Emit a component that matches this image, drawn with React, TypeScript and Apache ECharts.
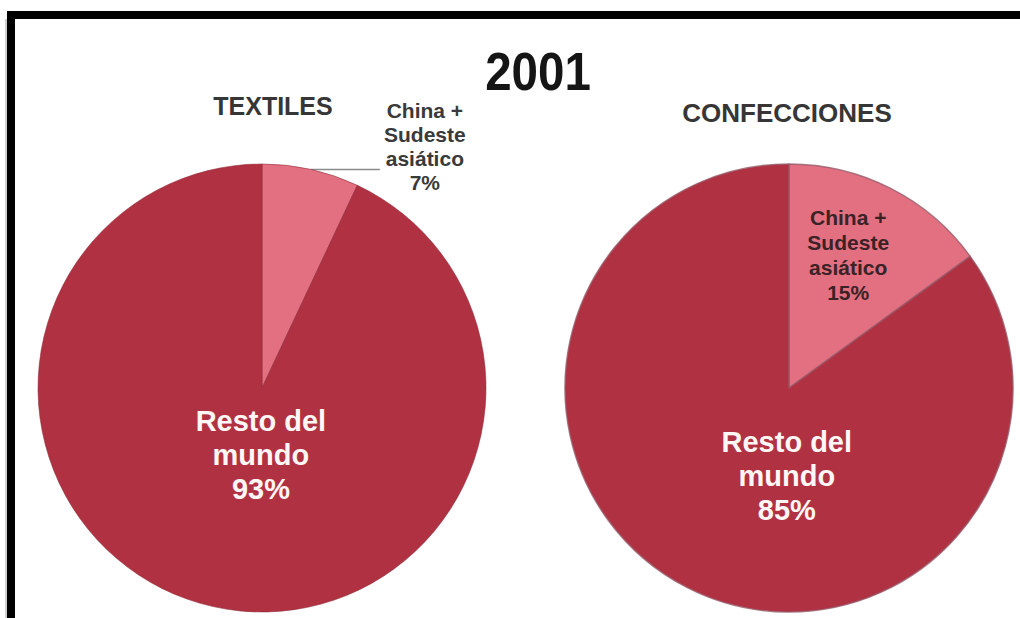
import React, { useEffect, useRef } from "react";
import * as echarts from "echarts";

// Share of world exports, 2001 (%)
const categories = ["China +\nSudeste\nasiático", "Resto del\nmundo"];
const textilesValues = [7, 93];
const confeccionesValues = [15, 85];
const panelTitles = ["TEXTILES", "CONFECCIONES"];
const yearTitle = "2001";

const DARK_RED = "#B03242";
const LIGHT_RED = "#E27080";
const FONT = "'Liberation Sans', Arial, sans-serif";

const makeData = (values: number[]) =>
  values.map((v, i) => ({ name: categories[i], value: v }));

const bigLabel = {
  show: true,
  position: "inside",
  formatter: (p: any) => `${p.name}\n${p.value}%`,
  color: "#fff6f6",
  fontFamily: FONT,
  fontWeight: "bold",
  fontSize: 29,
  lineHeight: 34,
  align: "center",
};

export default function App() {
  const ref = useRef<HTMLDivElement>(null);

  useEffect(() => {
    if (!ref.current) return;
    const chart = echarts.init(ref.current, undefined, { renderer: "svg" });

    const textilesData = makeData(textilesValues);
    const confeccionesData = makeData(confeccionesValues);

    chart.setOption({
      animation: false,
      backgroundColor: "#ffffff",
      graphic: [
        // frame
        { type: "rect", shape: { x: 7, y: 11, width: 1013, height: 8 }, style: { fill: "#000" } },
        { type: "rect", shape: { x: 7, y: 11, width: 8, height: 607 }, style: { fill: "#000" } },
        { type: "rect", shape: { x: 5, y: 19, width: 2, height: 599 }, style: { fill: "#cfcfcf" } },
        {
          type: "text",
          x: 538,
          y: 71,
          scaleX: 0.88,
          style: {
            text: yearTitle,
            fill: "#151515",
            font: `bold 54px ${FONT}`,
            textAlign: "center",
            textVerticalAlign: "middle",
          },
        },
        {
          type: "text",
          x: 273,
          y: 106,
          style: {
            text: panelTitles[0],
            fill: "#363636",
            font: `bold 25px ${FONT}`,
            textAlign: "center",
            textVerticalAlign: "middle",
          },
        },
        {
          type: "text",
          x: 787,
          y: 113,
          style: {
            text: panelTitles[1],
            fill: "#363636",
            font: `bold 26px ${FONT}`,
            textAlign: "center",
            textVerticalAlign: "middle",
          },
        },
      ],
      series: [
        {
          type: "pie",
          center: [262, 388],
          radius: 224,
          startAngle: 90,
          clockwise: true,
          avoidLabelOverlap: false,
          silent: true,
          itemStyle: { borderColor: "rgba(140,40,55,0.55)", borderWidth: 1 },
          labelLayout: (p: any) =>
            p.dataIndex === 1 ? { dx: 24, dy: -22 } : {},
          label: {
            show: true,
            position: "outside",
            distanceToLabelLine: 5,
            padding: [0, 0, 46, 0],
            formatter: (p: any) =>
              p.name
                .split("\n")
                .concat(`${p.value}%`)
                .map((s: string) => `{c|${s}}`)
                .join("\n"),
            rich: {
              c: {
                width: 80,
                align: "center",
                fontFamily: FONT,
                fontWeight: "bold",
                fontSize: 21,
                lineHeight: 24,
                color: "#3a3a3a",
              },
            },
          },
          labelLine: {
            show: true,
            length: 0,
            length2: 69,
            smooth: false,
            lineStyle: { color: "#8a8a8a", width: 1.5 },
          },
          data: [
            { ...textilesData[0], itemStyle: { color: LIGHT_RED } },
            {
              ...textilesData[1],
              itemStyle: { color: DARK_RED },
              label: bigLabel,
              labelLine: { show: false },
            },
          ],
        },
        {
          type: "pie",
          center: [789, 388],
          radius: 224,
          startAngle: 90,
          clockwise: true,
          avoidLabelOverlap: false,
          silent: true,
          itemStyle: { borderColor: "rgba(150,90,105,0.8)", borderWidth: 1.5 },
          labelLayout: (p: any) =>
            p.dataIndex === 1 ? { dx: 50, dy: -14 } : { dx: 7, dy: -31 },
          label: {
            show: true,
            position: "inside",
            formatter: (p: any) => `${p.name}\n${p.value}%`,
            color: "#3b2226",
            fontFamily: FONT,
            fontWeight: "bold",
            fontSize: 21,
            lineHeight: 25,
            align: "center",
          },
          labelLine: { show: false },
          data: [
            { ...confeccionesData[0], itemStyle: { color: LIGHT_RED } },
            { ...confeccionesData[1], itemStyle: { color: DARK_RED }, label: bigLabel },
          ],
        },
      ],
    });

    return () => chart.dispose();
  }, []);

  return (
    <div
      ref={ref}
      style={{ position: "fixed", left: 0, top: 0, width: 1020, height: 618 }}
    />
  );
}
